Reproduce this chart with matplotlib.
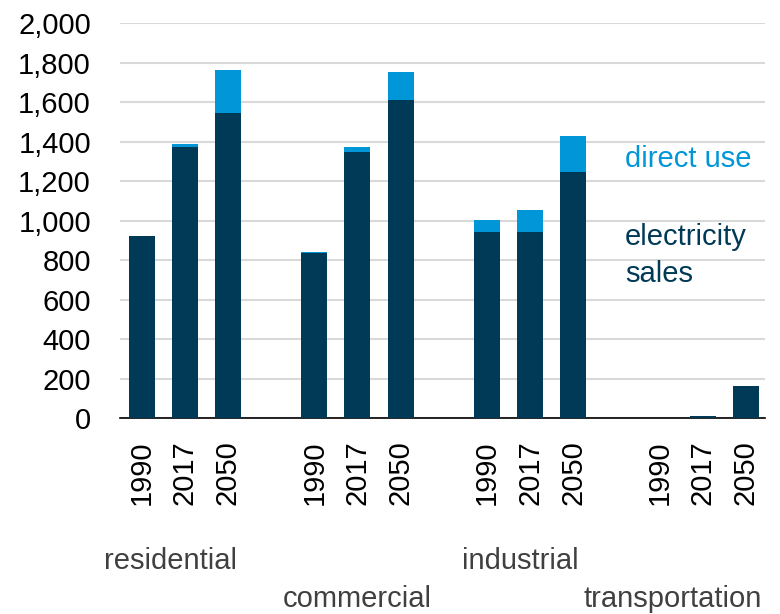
import numpy as np
import matplotlib.pyplot as plt
from matplotlib.ticker import FuncFormatter
import matplotlib.transforms as mtransforms

plt.rcParams['font.family'] = ['Liberation Sans', 'DejaVu Sans']

sectors = ['residential', 'commercial', 'industrial', 'transportation']
years = ['1990', '2017', '2050']
# electricity sales and direct use, per sector, per year
elec = [[920, 1372, 1544],
        [835, 1347, 1612],
        [942, 942, 1244],
        [3, 11, 164]]
direct = [[3, 14, 216],
          [4, 24, 138],
          [59, 110, 186],
          [0, 0, 0]]

dark = '#003A56'
light = '#0096D8'
fs = 21

fig = plt.figure(figsize=(7.8, 6.14), dpi=100)
ax = fig.add_axes([0.154, 0.319, 0.827, 0.6435])

xpos = []
labels = []
for i in range(len(sectors)):
    for j in range(len(years)):
        xpos.append(i * 4 + j)
        labels.append(years[j])
xpos = np.array(xpos)
e = np.array(elec).ravel()
d = np.array(direct).ravel()

ax.bar(xpos, e, width=0.6, color=dark, zorder=3)
ax.bar(xpos, d, bottom=e, width=0.6, color=light, zorder=3)

ax.set_xlim(-0.5, 14.45)
ax.set_ylim(0, 2000)
ax.set_yticks(np.arange(0, 2001, 200))
ax.yaxis.set_major_formatter(FuncFormatter(lambda v, p: f'{int(v):,}'))
ax.grid(axis='y', color='#D9D9D9', linewidth=1.5, zorder=0)
ax.set_xticks(xpos)
ax.set_xticklabels(labels, rotation=90)
ax.tick_params(axis='x', length=0, pad=16, labelsize=fs)
ax.tick_params(axis='y', length=0, pad=21, labelsize=fs)
for s in ['top', 'right', 'left']:
    ax.spines[s].set_visible(False)
ax.spines['bottom'].set_linewidth(1.2)
ax.spines['bottom'].set_zorder(2)

# group labels, staggered in two rows
label_x = [0.67, 5.0, 8.78, 12.3]
label_y = [0.086, 0.024]
trans = mtransforms.blended_transform_factory(ax.transData, fig.transFigure)
for i, name in enumerate(sectors):
    ax.text(label_x[i], label_y[i % 2], name, transform=trans, ha='center',
            va='center', fontsize=fs, color='#404040', clip_on=False)

# series labels
ax.text(11.2, 1310, 'direct use', color=light, fontsize=fs, va='center')
ax.text(11.2, 915, 'electricity', color=dark, fontsize=fs, va='center')
ax.text(11.2, 730, 'sales', color=dark, fontsize=fs, va='center')

fig.savefig('out.png', dpi=100)
